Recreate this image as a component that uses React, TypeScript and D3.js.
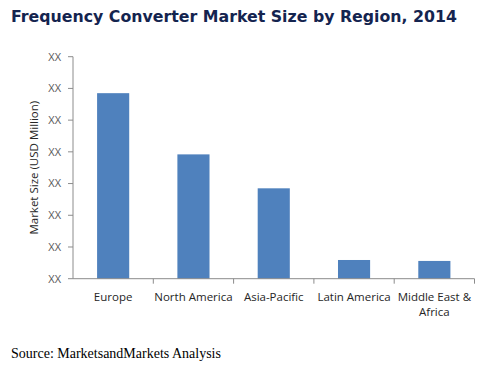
import React from "react";
import * as d3 from "d3";

const categories = ["Europe", "North America", "Asia-Pacific", "Latin America", "Middle East & Africa"];
const values = [5.85, 3.92, 2.85, 0.59, 0.56];
const tickValues = [0, 1, 2, 3, 4, 5, 6, 7];
const tickLabel = "XX";
const title = "Frequency Converter Market Size by Region, 2014";
const yTitle = "Market Size (USD Million)";
const source = "Source: MarketsandMarkets Analysis";

const catLines: Record<string, string[]> = {
  "Middle East & Africa": ["Middle East &", "Africa"],
};

export default function App() {
  const W = 485, H = 367;
  const x0 = 73, x1 = 474.5, yTop = 56.7, yBot = 278.7;
  const x = d3.scaleBand().domain(categories).range([x0, x1]).paddingInner(0.6).paddingOuter(0.3);
  const y = d3.scaleLinear().domain([0, 7]).range([yBot, yTop]);
  const step = (x1 - x0) / categories.length;
  const font = "'Open Sans', 'DejaVu Sans', sans-serif";
  return (
    <svg width={W} height={H} style={{ position: "absolute", left: 0, top: 0, background: "#fff" }}>
      <text x={11} y={22} fontFamily="'DejaVu Sans', Verdana, sans-serif" fontWeight="bold" fontSize={16.5}
        fill="#14244f" textLength={446} lengthAdjust="spacingAndGlyphs">{title}</text>
      {/* y axis */}
      <line x1={x0} x2={x0} y1={yTop} y2={yBot} stroke="#8c8c8c" />
      {tickValues.map((t) => (
        <g key={t}>
          <line x1={x0 - 5} x2={x0} y1={y(t)} y2={y(t)} stroke="#8c8c8c" />
          <text x={61} y={y(t)} dy="0.35em" textAnchor="end" fontFamily={font} fontSize={11} fill="#595959">{tickLabel}</text>
        </g>
      ))}
      <text transform={`translate(38,${(yTop + yBot) / 2}) rotate(-90)`} textAnchor="middle" fontFamily={font}
        fontSize={11.5} fill="#262626">{yTitle}</text>
      {/* bars */}
      {categories.map((c, i) => (
        <rect key={c} x={x(c)} y={y(values[i])} width={x.bandwidth()} height={yBot - y(values[i])} fill="#4f81bd" />
      ))}
      {/* x axis */}
      <line x1={x0} x2={x1} y1={yBot} y2={yBot} stroke="#8c8c8c" />
      {categories.map((c, i) => (
        <line key={"t" + c} x1={x0 + step * (i + 1)} x2={x0 + step * (i + 1)} y1={yBot} y2={yBot + 5} stroke="#8c8c8c" />
      ))}
      {categories.map((c) => {
        const lines = catLines[c] || [c];
        const cx = (x(c) as number) + x.bandwidth() / 2;
        return (
          <text key={"l" + c} textAnchor="middle" fontFamily={font} fontSize={11.5} fill="#262626">
            {lines.map((l, j) => (
              <tspan key={j} x={cx} y={301 + j * 15}>{l}</tspan>
            ))}
          </text>
        );
      })}
      <text x={11} y={358} fontFamily="'Liberation Serif', 'Times New Roman', serif" fontSize={14} fill="#000">{source}</text>
    </svg>
  );
}
